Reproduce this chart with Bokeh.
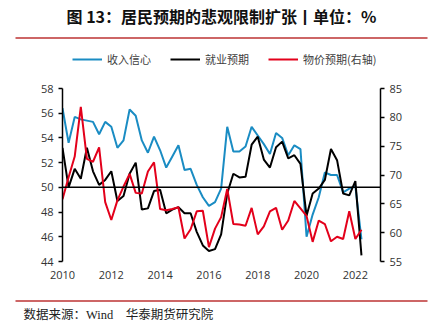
from bokeh.plotting import figure
from bokeh.layouts import column, row
from bokeh.models import (Range1d, LinearAxis, Span, Label, Legend, LegendItem,
                          BoxAnnotation, FixedTicker, ColumnDataSource)
from bokeh.embed import file_html
from bokeh.resources import INLINE

# ---------------- data (quarterly, 2010Q1 .. 2022Q2) ----------------
start_year = 2010
n_quarters = 50
income_confidence = [56.4, 53.6, 55.7, 55.5, 55.4, 55.3, 54.3, 55.3, 54.9, 53.2,
                     53.8, 56.3, 55.8, 53.8, 52.8, 54.1, 53.0, 51.6, 52.5, 53.4,
                     51.4, 51.5, 50.2, 49.2, 48.5, 48.8, 49.9, 54.9, 52.9, 52.9,
                     53.3, 54.9, 54.2, 53.5, 52.7, 54.4, 54.0, 52.6, 53.4, 53.1,
                     46.0, 47.8, 49.2, 51.2, 51.0, 51.0, 49.6, 49.9, 50.1, 45.8]
employment_expect = [53.2, 50.0, 51.5, 50.7, 53.2, 51.3, 50.2, 50.6, 51.3, 48.9,
                     49.3, 51.1, 52.0, 48.2, 48.3, 49.7, 49.8, 47.9, 48.2, 48.4,
                     47.9, 47.9, 46.4, 45.3, 44.85, 45.0, 46.2, 49.5, 51.1, 50.8,
                     50.85, 53.45, 54.1, 52.25, 51.6, 53.25, 53.7, 52.35, 52.6, 51.9,
                     47.7, 49.5, 49.9, 50.6, 53.1, 52.2, 49.5, 49.35, 50.5, 44.5]
price_expect = [65.8, 69.6, 73.2, 81.8, 72.8, 72.3, 74.8, 65.3, 62.2, 65.6,
                68.0, 70.2, 66.9, 66.8, 70.6, 72.2, 64.1, 63.9, 64.1, 64.4,
                59.0, 60.6, 63.7, 63.8, 57.5, 60.7, 62.7, 67.6, 61.5, 61.4,
                61.2, 64.3, 59.7, 61.1, 63.7, 64.3, 60.5, 62.1, 65.5, 64.2,
                62.9, 58.4, 62.1, 61.5, 58.5, 59.3, 58.9, 63.7, 58.9, 60.5]
x_ticks = [2010, 2012, 2014, 2016, 2018, 2020, 2022]
left_ticks = [44, 46, 48, 50, 52, 54, 56, 58]
right_ticks = [55, 60, 65, 70, 75, 80, 85]
series_names = ["收入信心", "就业预期", "物价预期(右轴)"]
title_text = "图 13：居民预期的悲观限制扩张丨单位：%"
source_text = "数据来源：Wind　华泰期货研究院"

t = [start_year + i / 4 for i in range(n_quarters)]
src = ColumnDataSource(dict(t=t, inc=income_confidence, emp=employment_expect, pri=price_expect))

BLUE = "#1a8cc3"
RED = "#e3001b"
RULE = "#cd6666"
AXIS_FONT = "Open Sans"
CJK = "Noto Sans CJK SC"


def blank_fig(h):
    f = figure(width=436, height=h, output_backend="svg", toolbar_location=None,
               x_axis_type=None, y_axis_type=None,
               x_range=Range1d(0, 1), y_range=Range1d(0, 1),
               min_border=0, min_border_left=0, min_border_right=0,
               min_border_top=0, min_border_bottom=0)
    f.outline_line_color = None
    f.grid.visible = False
    return f


# ---------------- header: title, rule, legend ----------------
top = blank_fig(80)
top.add_layout(Label(x=221, y=65, x_units="screen", y_units="screen", text=title_text,
                     text_font=CJK, text_font_size="16px", text_font_style="bold",
                     text_align="center", text_baseline="middle", text_color="#111111"))
top.add_layout(BoxAnnotation(left=15, right=427, bottom=41.5, top=43.5,
                             left_units="screen", right_units="screen",
                             bottom_units="screen", top_units="screen",
                             fill_color=RULE, fill_alpha=1, line_color=None))
# legend proxies: same series, but outside this header's (0..1) ranges, so only the legend shows
d_inc = top.line("t", "inc", source=src, color=BLUE, line_width=2)
d_emp = top.line("t", "emp", source=src, color="black", line_width=2)
d_pri = top.line("t", "pri", source=src, color=RED, line_width=2)
legend = Legend(items=[LegendItem(label=series_names[0], renderers=[d_inc]),
                       LegendItem(label=series_names[1], renderers=[d_emp]),
                       LegendItem(label=series_names[2], renderers=[d_pri])],
                orientation="horizontal", location=(72, 13),
                glyph_width=30, glyph_height=14, label_standoff=5, spacing=19,
                padding=0, margin=0, border_line_color=None, background_fill_alpha=0,
                label_text_font=CJK, label_text_font_size="11px", label_text_color="#404040",
                label_height=14)
top.add_layout(legend, "center")

# ---------------- main chart ----------------
p = figure(width=436, height=205, output_backend="svg", toolbar_location=None,
           x_range=Range1d(2010, 2023.03), y_range=Range1d(44, 58),
           min_border_left=62, min_border_right=56, min_border_top=8, min_border_bottom=24)
p.outline_line_color = None
p.grid.visible = False
p.background_fill_color = "white"
p.border_fill_color = "white"

p.extra_y_ranges = {"right": Range1d(55, 85)}

p.line("t", "inc", source=src, color=BLUE, line_width=2)
p.line("t", "emp", source=src, color="black", line_width=2)
p.line("t", "pri", source=src, color=RED, line_width=2, y_range_name="right")

p.add_layout(Span(location=50, dimension="width", line_color="black", line_width=1.5))

xa = p.xaxis[0]
xa.ticker = FixedTicker(ticks=x_ticks)
xa.axis_line_color = None
xa.major_tick_line_color = None
xa.minor_tick_line_color = None
xa.major_label_standoff = 3
xa.major_label_text_font = AXIS_FONT
xa.major_label_text_font_size = "11px"
xa.major_label_text_color = "#333333"

ya = p.yaxis[0]
ya.ticker = FixedTicker(ticks=left_ticks)
ya.axis_line_width = 1.5
ya.major_tick_in = 0
ya.major_tick_out = 4
ya.major_tick_line_width = 1.5
ya.minor_tick_line_color = None
ya.major_label_standoff = 5
ya.major_label_text_font = AXIS_FONT
ya.major_label_text_font_size = "11px"
ya.major_label_text_color = "#333333"

ra = LinearAxis(y_range_name="right", ticker=FixedTicker(ticks=right_ticks))
ra.axis_line_width = 1.5
ra.major_tick_in = 0
ra.major_tick_out = 4
ra.major_tick_line_width = 1.5
ra.minor_tick_line_color = None
ra.major_label_standoff = 5
ra.major_label_text_font = AXIS_FONT
ra.major_label_text_font_size = "11px"
ra.major_label_text_color = "#333333"
p.add_layout(ra, "right")

# ---------------- footer: rule + source ----------------
bot = blank_fig(50)
bot.add_layout(BoxAnnotation(left=15, right=427, bottom=33.5, top=35.5,
                             left_units="screen", right_units="screen",
                             bottom_units="screen", top_units="screen",
                             fill_color=RULE, fill_alpha=1, line_color=None))
bot.add_layout(Label(x=23, y=21, x_units="screen", y_units="screen", text=source_text,
                     text_font="Liberation Serif, Noto Sans CJK SC", text_font_size="12.5px",
                     text_align="left", text_baseline="middle", text_color="#222222"))

layout = column(row(top), row(p), row(bot), spacing=0)
open("out.html", "w").write(file_html(layout, INLINE))
